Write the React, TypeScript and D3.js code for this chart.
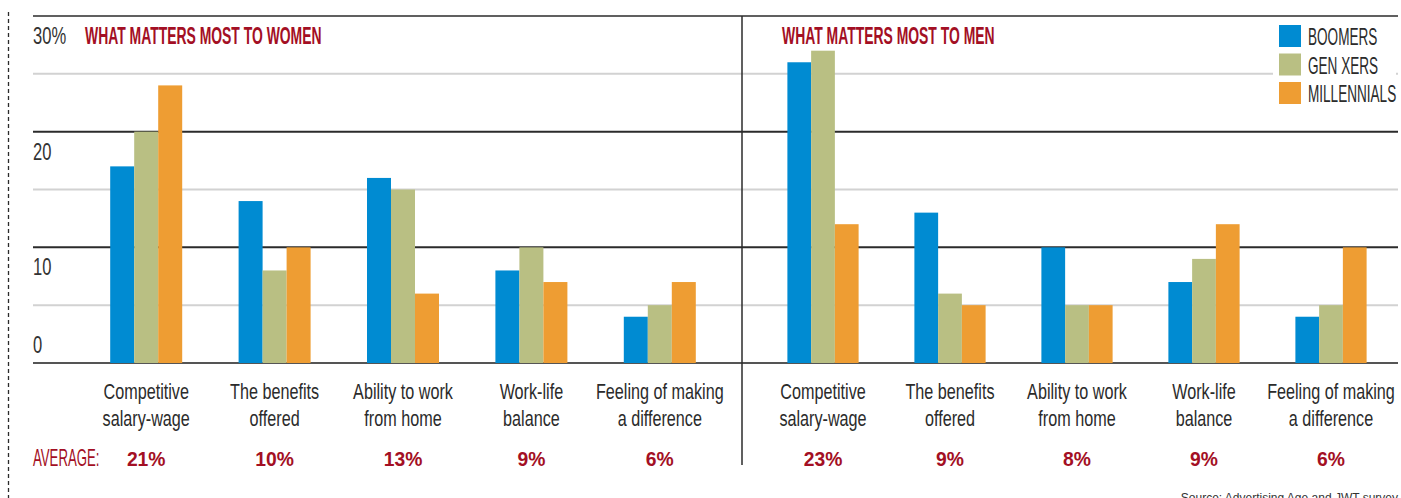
import React from "react";
import * as d3 from "d3";

const categories = ["Competitive salary-wage", "The benefits offered", "Ability to work from home", "Work-life balance", "Feeling of making a difference"];
const categoryLines = [["Competitive", "salary-wage"], ["The benefits", "offered"], ["Ability to work", "from home"], ["Work-life", "balance"], ["Feeling of making", "a difference"]];
const seriesNames = ["BOOMERS", "GEN XERS", "MILLENNIALS"];
const seriesColors = ["#008bd2", "#b9bf83", "#ee9d33"];

const womenBoomers = [17, 14, 16, 8, 4];
const womenGenX = [20, 8, 15, 10, 5];
const womenMillennials = [24, 10, 6, 7, 7];
const menBoomers = [26, 13, 10, 7, 4];
const menGenX = [27, 6, 5, 9, 5];
const menMillennials = [12, 5, 5, 12, 10];

const womenAverages = ["21%", "10%", "13%", "9%", "6%"];
const menAverages = ["23%", "9%", "8%", "9%", "6%"];

const yTicks = [0, 5, 10, 15, 20, 25, 30];
const yLabelValues = [0, 10, 20, 30];
const yLabelTexts = ["0", "10", "20", "30%"];

const RED = "#a30f24";
const DARK = "#2b2b2b";
const SANS = "'Liberation Sans', Arial, sans-serif";

type CTProps = { x: number; y: number; sx: number; size: number; fill: string; weight?: string; anchor?: string; children: React.ReactNode };
function CText({ x, y, sx, size, fill, weight, anchor, children }: CTProps) {
  return (
    <text transform={`translate(${x},${y}) scale(${sx},1)`} fontFamily={SANS} fontSize={size} fontWeight={weight || "normal"} fill={fill} textAnchor={anchor || "start"}>
      {children}
    </text>
  );
}

export default function App() {
  const W = 1401, H = 498;
  const left = 33, right = 1398, top = 16, bottom = 363;
  const divX = 742;
  const y = d3.scaleLinear().domain([0, 30]).range([bottom, top]);

  const panels = [
    { title: "WHAT MATTERS MOST TO WOMEN", titleX: 85, range: [82, 724], data: [womenBoomers, womenGenX, womenMillennials], avgs: womenAverages },
    { title: "WHAT MATTERS MOST TO MEN", titleX: 782, range: [759.5, 1394.5], data: [menBoomers, menGenX, menMillennials], avgs: menAverages },
  ];

  return (
    <svg width={W} height={H} style={{ position: "absolute", left: 0, top: 0, background: "#fff" }}>
      <rect x={0} y={0} width={W} height={H} fill="#fff" />
      <line x1={8.5} x2={8.5} y1={12} y2={H} stroke={DARK} strokeWidth={1.3} strokeDasharray="4,3" />
      {yTicks.map((t) => {
        const major = t % 10 === 0;
        return (
          <line key={t} x1={left} x2={right} y1={y(t)} y2={y(t)}
            stroke={t === 0 ? "#555" : major ? DARK : "#d2d2d2"}
            strokeWidth={t === 30 ? 1.5 : 2} />
        );
      })}
      <line x1={divX} x2={divX} y1={top} y2={465} stroke={DARK} strokeWidth={1.5} />
      {yLabelValues.map((v, i) => (
        <CText key={v} x={left} y={v === 0 ? y(v) - 10 : y(v) + 28} sx={0.72} size={23} fill="#333">
          {yLabelTexts[i]}
        </CText>
      ))}
      {panels.map((p, pi) => {
        const x0 = d3.scaleBand().domain(categories).range(p.range as [number, number]).padding(0);
        const x1 = d3.scaleBand().domain(seriesNames).range([0, x0.bandwidth()]).paddingInner(0).paddingOuter(1.175);
        return (
          <g key={pi}>
            <CText x={p.titleX} y={44.3} sx={0.58} size={24} weight="bold" fill={RED}>{p.title}</CText>
            {categories.map((c, ci) => (
              <g key={c} transform={`translate(${x0(c)},0)`}>
                {seriesNames.map((s, si) => {
                  const v = p.data[si][ci];
                  return <rect key={s} x={x1(s)} y={y(v)} width={x1.bandwidth()} height={y(0) - y(v)} fill={seriesColors[si]} />;
                })}
                {categoryLines[ci].map((ln, li) => (
                  <CText key={li} x={x0.bandwidth() / 2} y={399 + li * 27} sx={0.71} size={22.8} anchor="middle" fill="#2b2b2b">{ln}</CText>
                ))}
                <CText x={x0.bandwidth() / 2} y={466} sx={0.92} size={21} weight="bold" anchor="middle" fill={RED}>{p.avgs[ci]}</CText>
              </g>
            ))}
          </g>
        );
      })}
      <CText x={left} y={466} sx={0.55} size={24} fill={RED}>AVERAGE:</CText>
      <rect x={1273} y={17} width={123} height={92} fill="#fff" />
      {seriesNames.map((s, i) => (
        <g key={s} transform={`translate(1279,${25 + i * 28.5})`}>
          <rect x={0} y={0} width={22} height={22} fill={seriesColors[i]} />
          <CText x={29} y={20} sx={0.59} size={23} fill="#2b2b2b">{s}</CText>
        </g>
      ))}
      <text x={right} y={502} textAnchor="end" fontFamily={SANS} fontSize={12} fill="#333">Source: Advertising Age and JWT survey</text>
    </svg>
  );
}
